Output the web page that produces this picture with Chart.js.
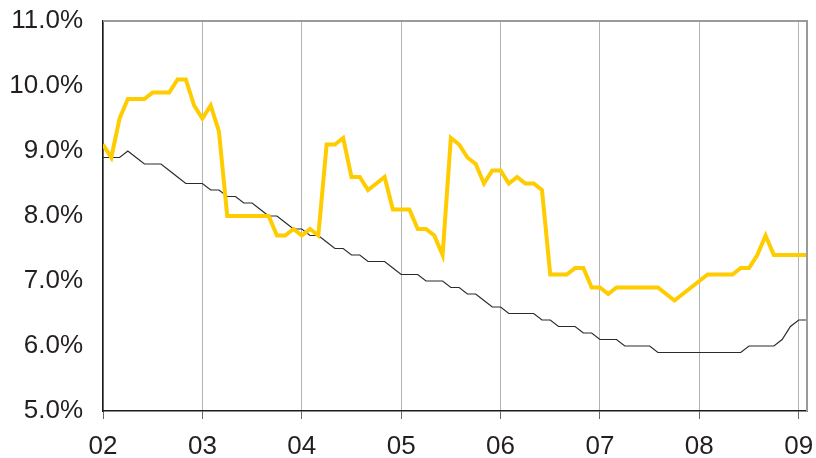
<!DOCTYPE html>
<html>
<head>
<meta charset="utf-8">
<script src="https://cdn.jsdelivr.net/npm/chart.js@4/dist/chart.umd.min.js"></script>
<style>
  html, body { margin: 0; padding: 0; background: #ffffff; }
  #wrap { width: 816px; height: 458px; }
</style>
</head>
<body>
<div id="wrap"><canvas id="c" width="816" height="458"></canvas></div>
<script>
// Year labels along the time axis (monthly observations from Jan 2002)
const yearLabels = ['02', '03', '04', '05', '06', '07', '08', '09'];
const monthsPerYear = 12;

// Yellow series, monthly values in percent
const seriesYellow = [
  9.1, 8.9, 9.5, 9.8, 9.8, 9.8, 9.9, 9.9, 9.9, 10.1, 10.1, 9.7,
  9.5, 9.7, 9.3, 8.0, 8.0, 8.0, 8.0, 8.0, 8.0, 7.7, 7.7, 7.8,
  7.7, 7.8, 7.7, 9.1, 9.1, 9.2, 8.6, 8.6, 8.4, 8.5, 8.6, 8.1,
  8.1, 8.1, 7.8, 7.8, 7.7, 7.4, 9.2, 9.1, 8.9, 8.8, 8.5, 8.7,
  8.7, 8.5, 8.6, 8.5, 8.5, 8.4, 7.1, 7.1, 7.1, 7.2, 7.2, 6.9,
  6.9, 6.8, 6.9, 6.9, 6.9, 6.9, 6.9, 6.9, 6.8, 6.7, 6.8, 6.9,
  7.0, 7.1, 7.1, 7.1, 7.1, 7.2, 7.2, 7.4, 7.7, 7.4, 7.4, 7.4,
  7.4, 7.4
];

// Black series, monthly values in percent
const seriesBlack = [
  8.9, 8.9, 8.9, 9.0, 8.9, 8.8, 8.8, 8.8, 8.7, 8.6, 8.5, 8.5,
  8.5, 8.4, 8.4, 8.3, 8.3, 8.2, 8.2, 8.1, 8.0, 8.0, 7.9, 7.8,
  7.8, 7.7, 7.7, 7.6, 7.5, 7.5, 7.4, 7.4, 7.3, 7.3, 7.3, 7.2,
  7.1, 7.1, 7.1, 7.0, 7.0, 7.0, 6.9, 6.9, 6.8, 6.8, 6.7, 6.6,
  6.6, 6.5, 6.5, 6.5, 6.5, 6.4, 6.4, 6.3, 6.3, 6.3, 6.2, 6.2,
  6.1, 6.1, 6.1, 6.0, 6.0, 6.0, 6.0, 5.9, 5.9, 5.9, 5.9, 5.9,
  5.9, 5.9, 5.9, 5.9, 5.9, 5.9, 6.0, 6.0, 6.0, 6.0, 6.1, 6.3,
  6.4, 6.4
];

// Value axis ticks
const yTicks = [5, 6, 7, 8, 9, 10, 11];

const toPoints = arr => arr.map((v, i) => ({ x: i, y: v }));

// Gray frame on the top and right sides of the plot area
const frame = {
  id: 'frame',
  afterDraw(chart) {
    const { ctx, chartArea: a } = chart;
    ctx.save();
    ctx.strokeStyle = '#9a9a9a';
    ctx.lineWidth = 2;
    ctx.beginPath();
    ctx.moveTo(a.left, a.top);
    ctx.lineTo(a.right, a.top);
    ctx.lineTo(a.right, a.bottom);
    ctx.stroke();
    ctx.restore();
  }
};

Chart.defaults.font.family = "'Liberation Sans', Arial, sans-serif";
Chart.defaults.font.size = 26;
Chart.defaults.color = '#231f20';

new Chart(document.getElementById('c'), {
  type: 'line',
  data: {
    datasets: [
      {
        data: toPoints(seriesBlack),
        borderColor: '#2b2b2b',
        borderWidth: 1.2,
        pointRadius: 0,
        tension: 0,
        order: 2
      },
      {
        data: toPoints(seriesYellow),
        borderColor: '#ffcc00',
        borderWidth: 4,
        pointRadius: 0,
        tension: 0,
        borderJoinStyle: 'miter',
        order: 1
      }
    ]
  },
  options: {
    responsive: false,
    animation: false,
    layout: { padding: { left: 0, top: 21, right: 9, bottom: 0 } },
    plugins: { legend: { display: false }, tooltip: { enabled: false } },
    scales: {
      x: {
        type: 'linear',
        min: 0,
        max: seriesYellow.length - 1,
        afterBuildTicks(scale) {
          scale.ticks = yearLabels.map((_, k) => ({ value: k * monthsPerYear }));
        },
        afterFit(scale) {
          scale.height = 47;
          scale.paddingLeft = 0;
          scale.paddingRight = 0;
        },
        ticks: {
          autoSkip: false,
          maxRotation: 0,
          padding: 12,
          callback: v => yearLabels[Math.round(v / monthsPerYear)]
        },
        grid: {
          color: '#b4b4b4',
          lineWidth: 1,
          tickLength: 8,
          tickColor: '#666666'
        },
        border: { color: '#1a1a1a', width: 1.5 }
      },
      y: {
        min: 5,
        max: 11,
        afterBuildTicks(scale) {
          scale.ticks = yTicks.map(v => ({ value: v }));
        },
        afterFit(scale) {
          scale.width = 103;
          scale.paddingTop = 0;
          scale.paddingBottom = 0;
        },
        ticks: {
          padding: 20,
          callback: v => v.toFixed(1) + '%'
        },
        grid: { drawOnChartArea: false, drawTicks: false },
        border: { color: '#1a1a1a', width: 1.5 }
      }
    }
  },
  plugins: [frame]
});
</script>
</body>
</html>
